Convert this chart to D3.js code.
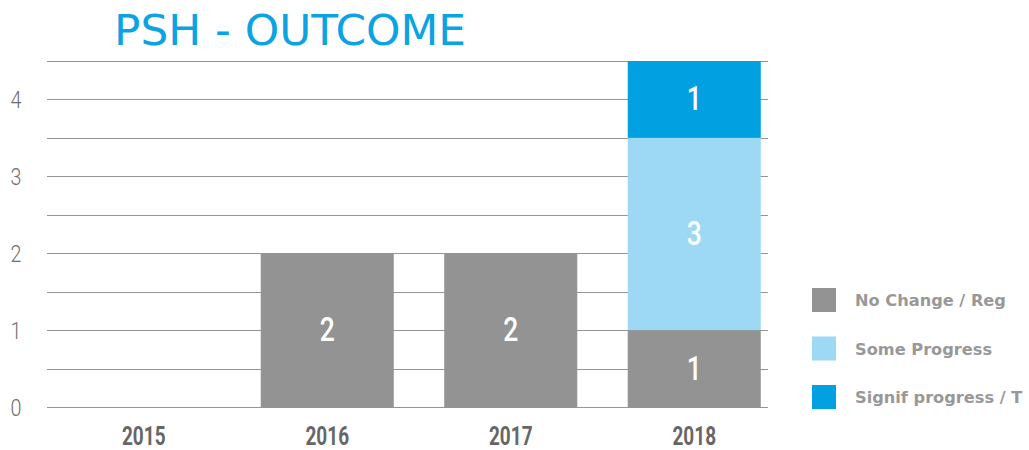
<!DOCTYPE html>
<html>
<head>
<meta charset="utf-8">
<script src="https://cdn.jsdelivr.net/npm/d3@7"></script>
<style>
  body { margin: 0; background: #fff; }
  svg { display: block; }
  .cond { font-family: Roboto, 'DejaVu Sans', sans-serif; }
</style>
</head>
<body>
<svg id="chart" width="1029" height="450"></svg>
<script>
const years = ["2015", "2016", "2017", "2018"];
const seriesNames = ["No Change / Reg", "Some Progress", "Signif progress / T"];
const noChange = [0, 2, 2, 1];
const someProgress = [0, 0, 0, 2.5];
const signifProgress = [0, 0, 0, 1];
const yTicks = [0, 0.5, 1, 1.5, 2, 2.5, 3, 3.5, 4, 4.5];
const colors = ["#939393", "#9dd8f5", "#00a0e1"];

const svg = d3.select("#chart");

const rows = years.map((yr, i) => ({
  year: yr, s0: noChange[i], s1: someProgress[i], s2: signifProgress[i]
}));
const stack = d3.stack().keys(["s0", "s1", "s2"])(rows);

const x = d3.scaleBand().domain(years).range([52, 786]).paddingInner(0.275).paddingOuter(0.1375);
const y = d3.scaleLinear().domain([0, 4.5]).range([407, 61]);

// squeeze text horizontally to look like a condensed face
const squeeze = (px, py, sx) => `translate(${px},${py}) scale(${sx},1)`;

// grid
svg.append("g").selectAll("line").data(yTicks).join("line")
  .attr("x1", 47).attr("x2", 768)
  .attr("y1", d => Math.round(y(d)) + 0.5).attr("y2", d => Math.round(y(d)) + 0.5)
  .attr("stroke", "#959595").attr("stroke-width", 1);

// y labels
svg.append("g").selectAll("text").data(yTicks.filter(d => d % 1 === 0)).join("text")
  .attr("class", "cond")
  .attr("transform", d => squeeze(16, y(d) + 8.5, 0.82))
  .attr("text-anchor", "middle")
  .attr("font-size", 24).attr("font-weight", 300)
  .attr("fill", "#6e6e6e")
  .text(d => d);

// bars
stack.forEach((layer, k) => {
  const g = svg.append("g");
  const segs = layer.filter(d => d[1] > d[0]);
  g.selectAll("rect").data(segs).join("rect")
    .attr("x", d => x(d.data.year))
    .attr("width", x.bandwidth())
    .attr("y", d => y(d[1]))
    .attr("height", d => y(d[0]) - y(d[1]))
    .attr("fill", colors[k]);
  g.selectAll("text").data(segs).join("text")
    .attr("class", "cond")
    .attr("transform", d => squeeze(x(d.data.year) + x.bandwidth() / 2, (y(d[0]) + y(d[1])) / 2 + 11, 0.8))
    .attr("text-anchor", "middle")
    .attr("font-size", 33).attr("font-weight", 500)
    .attr("fill", "#fff")
    .text(d => d3.format(".0f")(d[1] - d[0]));
});

// x labels
svg.append("g").selectAll("text").data(years).join("text")
  .attr("class", "cond")
  .attr("transform", d => squeeze(x(d) + x.bandwidth() / 2, 445, 0.76))
  .attr("text-anchor", "middle")
  .attr("font-size", 25).attr("font-weight", 700)
  .attr("fill", "#666")
  .text(d => d);

// title
svg.append("text")
  .attr("x", 114).attr("y", 45)
  .attr("font-family", "'DejaVu Sans', 'Open Sans', sans-serif")
  .attr("font-size", 43)
  .attr("fill", "#0ba3e2")
  .attr("textLength", 352)
  .attr("lengthAdjust", "spacingAndGlyphs")
  .text("PSH - OUTCOME");

// legend
const legend = svg.append("g").selectAll("g").data(seriesNames).join("g")
  .attr("transform", (d, i) => `translate(812,${288 + i * 48.5})`);
legend.append("rect").attr("width", 24).attr("height", 24).attr("fill", (d, i) => colors[i]);
legend.append("text")
  .attr("x", 43).attr("y", 18)
  .attr("font-family", "'DejaVu Sans', 'Open Sans', sans-serif")
  .attr("font-size", 16.2).attr("font-weight", 700)
  .attr("fill", "#989898")
  .text(d => d);
</script>
</body>
</html>
